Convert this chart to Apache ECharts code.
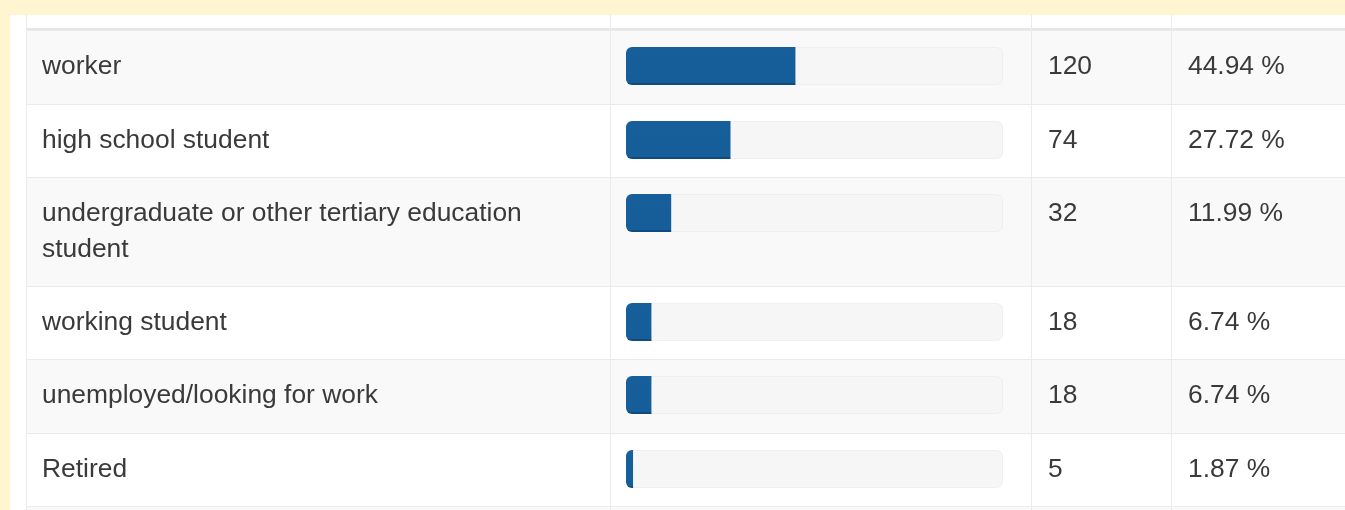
<!DOCTYPE html>
<html>
<head>
<meta charset="utf-8">
<script src="https://cdn.jsdelivr.net/npm/echarts@6/dist/echarts.min.js"></script>
<style>
  html, body { margin: 0; padding: 0; background: #fff5d1; }
  #chart { width: 1345px; height: 510px; }
</style>
</head>
<body>
<div id="chart"></div>
<script>
// table data
const categories = [
    'worker',
    'high school student',
    'undergraduate or other tertiary education student',
    'working student',
    'unemployed/looking for work',
    'Retired'
]
const counts = [120, 74, 32, 18, 18, 5]
const percents = [44.94, 27.72, 11.99, 6.74, 6.74, 1.87]

// layout of the table
const FONT = '26.4px Arial, "Liberation Sans", sans-serif'
const TEXT_COLOR = '#3a3a3a'
const BORDER = '#ebebeb'
const cols = [26, 610, 1031, 1171]   // column borders
const tableTop = 30
const labelWidth = cols[1] - cols[0] - 32
const barTopPad = 17
const barHeight = 38
const textPad = 18.5

// word wrap the first column the way the browser would
const ctx = document.createElement('canvas').getContext('2d')
ctx.font = FONT
function wrap(text, width) {
    const words = text.split(' ')
    const lines = []
    let line = ''
    words.forEach(w => {
        const test = line ? line + ' ' + w : w
        if (line && ctx.measureText(test).width > width) {
            lines.push(line)
            line = w
        } else {
            line = test
        }
    })
    lines.push(line)
    return lines
}

const wrapped = categories.map(c => wrap(c, labelWidth))
// row start / height in pixels, one line = 35px plus cell padding
let acc = 0
const rows = wrapped.map((lines, i) => {
    const h = 38.5 + 35 * lines.length
    const top = Math.round(acc)
    acc += h
    return [percents[i], top, Math.round(acc) - top, i]
})
const tableHeight = Math.round(acc)

const myChart = echarts.init(document.getElementById('chart'))

function cellText(text, x, y) {
    return {
        type: 'text',
        style: {
            text: text,
            x: x,
            y: y,
            font: FONT,
            fill: TEXT_COLOR,
            lineHeight: 36,
            verticalAlign: 'top'
        }
    }
}

myChart.setOption({
    backgroundColor: '#fff5d1',
    animation: false,
    grid: {
        left: 626,
        width: 377,
        top: tableTop,
        height: tableHeight
    },
    xAxis: {
        type: 'value',
        min: 0,
        max: 100,
        show: false
    },
    yAxis: {
        type: 'value',
        inverse: true,
        min: 0,
        max: tableHeight,
        show: false
    },
    graphic: [
        // white panel
        {type: 'rect', z: -10, shape: {x: 10, y: 15, width: 1335, height: 495}, style: {fill: '#fff'}},
        // header bottom border
        {type: 'rect', z: -9, shape: {x: cols[0], y: 28, width: 1345 - cols[0], height: 2}, style: {fill: '#e6e6e6'}},
        // next row starting at the bottom
        {type: 'rect', z: -9, shape: {x: cols[0], y: tableTop + tableHeight + 1, width: 1345 - cols[0], height: 10}, style: {fill: '#f9f9f9'}},
        {type: 'rect', z: -8, shape: {x: cols[0], y: tableTop + tableHeight, width: 1345 - cols[0], height: 1}, style: {fill: BORDER}},
        ...cols.map(x => ({type: 'rect', z: -8, shape: {x: x, y: 15, width: 1, height: 495}, style: {fill: BORDER}}))
    ],
    series: [
        {
            name: 'rows',
            type: 'custom',
            clip: false,
            z: 1,
            data: rows,
            renderItem: function (params, api) {
                const i = api.value(3)
                const top = api.coord([0, api.value(1)])[1]
                const bottom = api.coord([0, api.value(1) + api.value(2)])[1]
                const x0 = api.coord([0, 0])[0]
                const x100 = api.coord([100, 0])[0]
                const textY = top + textPad
                const children = [
                    {
                        type: 'rect',
                        shape: {x: cols[0], y: top, width: 1345 - cols[0], height: bottom - top},
                        style: {fill: i % 2 === 0 ? '#f9f9f9' : '#fff'}
                    },
                    {
                        type: 'rect',
                        shape: {x: cols[0], y: top, width: 1345 - cols[0], height: 1},
                        style: {fill: BORDER}
                    },
                    ...cols.map(x => ({
                        type: 'rect',
                        shape: {x: x, y: top, width: 1, height: bottom - top},
                        style: {fill: BORDER}
                    })),
                    {
                        type: 'rect',
                        shape: {x: x0 + 0.5, y: top + barTopPad + 0.5, width: x100 - x0 - 1, height: barHeight - 1, r: 6},
                        style: {fill: '#f6f6f6', stroke: '#efefef', lineWidth: 1}
                    },
                    cellText(wrapped[i].join('\n'), cols[0] + 16, textY),
                    cellText(String(counts[i]), cols[2] + 17, textY),
                    cellText(percents[i].toFixed(2) + ' %', cols[3] + 17, textY)
                ]
                return {type: 'group', children: children}
            }
        },
        {
            name: 'share',
            type: 'custom',
            clip: false,
            z: 2,
            data: rows,
            renderItem: function (params, api) {
                const top = api.coord([0, api.value(1)])[1] + barTopPad
                const start = api.coord([0, 0])[0]
                const end = api.coord([api.value(0), 0])[0]
                return {
                    type: 'rect',
                    shape: {x: start, y: top, width: end - start, height: barHeight, r: [6, 0, 0, 6]},
                    style: {
                        fill: {
                            type: 'linear', x: 0, y: 0, x2: 0, y2: 1,
                            colorStops: [
                                {offset: 0, color: '#175f9b'},
                                {offset: 0.94, color: '#165e9a'},
                                {offset: 0.95, color: '#0f4b7f'},
                                {offset: 1, color: '#0f4b7f'}
                            ]
                        }
                    }
                }
            }
        }
    ]
})
window.addEventListener('resize', myChart.resize)
</script>
</body>
</html>
